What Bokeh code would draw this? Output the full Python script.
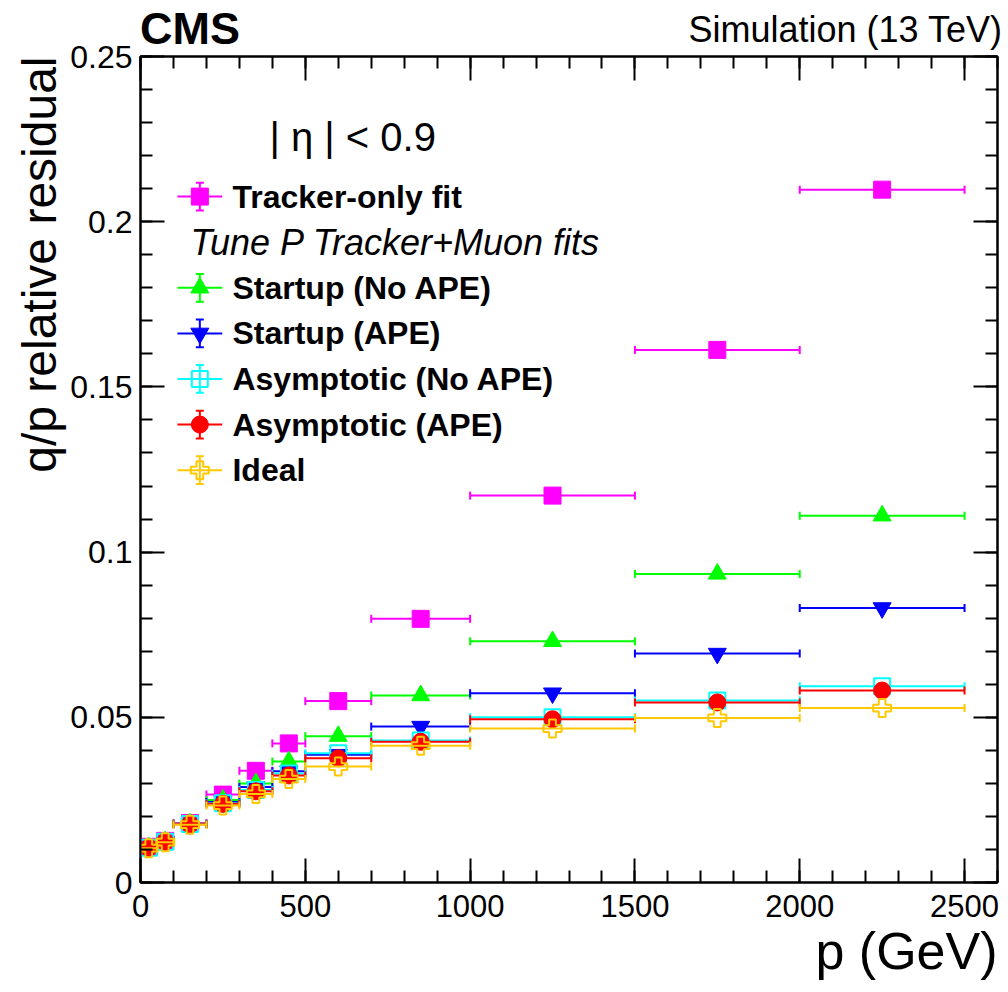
import numpy as np
from bokeh.plotting import figure
from bokeh.layouts import column
from bokeh.models import Range1d, FixedTicker, LinearAxis, Label, Title, Div
from bokeh.core.properties import value
from bokeh.embed import file_html
from bokeh.resources import INLINE

# Momentum bins (GeV)
bin_edges = [0, 50, 100, 200, 300, 400, 500, 700, 1000, 1500, 2000, 2500]

# q/p relative residual per bin
tracker_only = [0.0108, 0.0126, 0.0180, 0.0266, 0.0338, 0.0421, 0.0549, 0.0798, 0.1171, 0.1612, 0.2097]
startup_no_ape = [0.0106, 0.0124, 0.0178, 0.0250, 0.0300, 0.0366, 0.0443, 0.0566, 0.0730, 0.0934, 0.1110]
startup_ape = [0.0106, 0.0124, 0.0177, 0.0244, 0.0289, 0.0337, 0.0387, 0.0472, 0.0573, 0.0693, 0.0831]
asympt_no_ape = [0.0105, 0.0123, 0.0177, 0.0240, 0.0280, 0.0330, 0.0391, 0.0430, 0.0500, 0.0551, 0.0594]
asympt_ape = [0.0105, 0.0123, 0.0176, 0.0238, 0.0276, 0.0324, 0.0376, 0.0426, 0.0494, 0.0545, 0.0581]
ideal = [0.0104, 0.0122, 0.0175, 0.0233, 0.0268, 0.0313, 0.0351, 0.0414, 0.0466, 0.0498, 0.0528]

series_names = ["Tracker-only fit", "Startup (No APE)", "Startup (APE)",
                "Asymptotic (No APE)", "Asymptotic (APE)", "Ideal"]
series_values = [tracker_only, startup_no_ape, startup_ape, asympt_no_ape, asympt_ape, ideal]
legend_header = "Tune P Tracker+Muon fits"

x_major_ticks = [0, 500, 1000, 1500, 2000, 2500]
y_major_ticks = [0, 0.05, 0.1, 0.15, 0.2, 0.25]
y_tick_labels = ["0", "0.05", "0.1", "0.15", "0.2", "0.25"]

# marker styles: (color, marker, filled, size, line width)
styles = [
    ("#FF00FF", "square", True, 17, 1),
    ("#00FF00", "triangle", True, 18, 1),
    ("#0000FF", "inverted_triangle", True, 18, 1),
    ("#00FFFF", "square", False, 16, 2),
    ("#FF0000", "circle", True, 17, 1),
    ("#FFC800", "plus", False, 18, 2),
]

FONT = "Liberation Sans"
FIG_W, FIG_H = 1008, 992

# ---- main plot ----
p = figure(width=FIG_W, height=FIG_H, output_backend="svg", toolbar_location=None,
           x_range=Range1d(0, 2600), y_range=Range1d(0, 0.25),
           min_border_left=140, min_border_right=11, min_border_top=56,
           min_border_bottom=110, margin=(0, 0, 0, 0))
p.grid.visible = False
p.outline_line_color = "black"
p.outline_line_width = 2
p.background_fill_color = "white"
p.border_fill_color = "white"

x_ticker = FixedTicker(ticks=x_major_ticks, minor_ticks=list(range(0, 2601, 100)))
y_ticker = FixedTicker(ticks=y_major_ticks, minor_ticks=[i / 100 for i in range(26)])


def style_axis(ax, ticker):
    ax.ticker = ticker
    ax.axis_line_color = "black"
    ax.axis_line_width = 2
    ax.major_tick_line_width = 2
    ax.minor_tick_line_width = 2
    ax.major_tick_in = 24
    ax.major_tick_out = 0
    ax.minor_tick_in = 12
    ax.minor_tick_out = 0
    ax.major_label_text_font = FONT
    ax.major_label_text_color = "black"


xa = p.xaxis[0]
style_axis(xa, x_ticker)
xa.major_label_text_font_size = "31px"
xa.major_label_standoff = 12

ya = p.yaxis[0]
style_axis(ya, y_ticker)
ya.major_label_text_font_size = "32px"
ya.major_label_standoff = 8
ya.major_label_overrides = {t: s for t, s in zip(y_major_ticks, y_tick_labels)}

# mirrored tick axes on the top and right edges, without labels
top_axis = LinearAxis()
style_axis(top_axis, x_ticker)
top_axis.major_label_text_font_size = "1px"
top_axis.major_label_text_color = None
top_axis.major_label_standoff = 0
p.add_layout(top_axis, "above")

right_axis = LinearAxis()
style_axis(right_axis, y_ticker)
right_axis.major_label_text_font_size = "1px"
right_axis.major_label_text_color = None
right_axis.major_label_standoff = 0
p.add_layout(right_axis, "right")

# axis titles, pushed to the far end of each axis
p.add_layout(Title(text="q/p relative residual", align="right", text_font=FONT,
                   text_font_size="48px", text_font_style="normal", text_color="black",
                   standoff=4), "left")
p.add_layout(Title(text="p (GeV)", align="right", text_font=FONT,
                   text_font_size="52px", text_font_style="normal", text_color="black",
                   standoff=0), "below")

lo = np.array(bin_edges[:-1], dtype=float)
hi = np.array(bin_edges[1:], dtype=float)
centers = 0.5 * (lo + hi)

# data points with horizontal bin-width bars and end caps
for vals, (color, marker, filled, size, lw) in zip(series_values, styles):
    v = np.array(vals)
    p.segment(x0=lo, y0=v, x1=hi, y1=v, line_color=color, line_width=2)
    p.scatter(x=np.concatenate([lo, hi]), y=np.concatenate([v, v]), marker="dash",
              angle=np.pi / 2, size=8, line_color=color, line_width=2)
    p.scatter(x=centers, y=v, marker=marker, size=size,
              fill_color=color if filled else None, line_color=color, line_width=lw)

# legend, built in data space below the eta label
leg_x = 180.0
leg_half_w = 68.0
leg_half_h = 0.0042
leg_top = 0.2076
leg_step = 0.0138
leg_text_x = 279.0
leg_header_x = 152.0

rows = [0, 2, 3, 4, 5, 6]
for (name, (color, marker, filled, size, lw)), r in zip(zip(series_names, styles), rows):
    yy = leg_top - r * leg_step
    p.segment(x0=[leg_x - leg_half_w], y0=[yy], x1=[leg_x + leg_half_w], y1=[yy],
              line_color=color, line_width=2)
    p.segment(x0=[leg_x], y0=[yy - leg_half_h], x1=[leg_x], y1=[yy + leg_half_h],
              line_color=color, line_width=2)
    p.scatter(x=[leg_x, leg_x], y=[yy - leg_half_h, yy + leg_half_h], marker="dash",
              size=8, line_color=color, line_width=2)
    p.scatter(x=[leg_x], y=[yy], marker=marker, size=size,
              fill_color=color if filled else None, line_color=color, line_width=lw)
    p.text(x=[leg_text_x], y=[yy], text=[name], text_font=value(FONT),
           text_font_size="32px", text_font_style="bold", text_baseline="middle",
           text_align="left", text_color="black")

p.text(x=[leg_header_x], y=[leg_top - leg_step], text=[legend_header], text_font=value(FONT),
       text_font_size="36px", text_font_style="italic", text_baseline="middle",
       text_align="left", text_color="black")

p.add_layout(Label(x=129, y=746, x_units="screen", y_units="screen",
                   text="| η | < 0.9", text_font=FONT, text_font_size="40px",
                   text_color="black", text_baseline="alphabetic", text_align="left"))

# ---- header strip (experiment tag and sample), laid over the top border ----
header_html = (
    '<div style="position:relative;width:1008px;height:54px;'
    "font-family:'Liberation Sans',Arial,sans-serif;color:black;\">"
    '<span style="position:absolute;left:140px;top:6px;font-size:45px;'
    'font-weight:bold;line-height:1;white-space:nowrap;">CMS</span>'
    '<span style="position:absolute;right:6px;top:12px;font-size:36px;'
    'line-height:1;white-space:nowrap;">Simulation (13 TeV)</span>'
    '</div>'
)
header = Div(text=header_html, width=FIG_W, height=54, margin=(-FIG_H, 0, 0, 0))

layout = column(p, header, spacing=0)
open("out.html", "w").write(file_html(layout, INLINE))
